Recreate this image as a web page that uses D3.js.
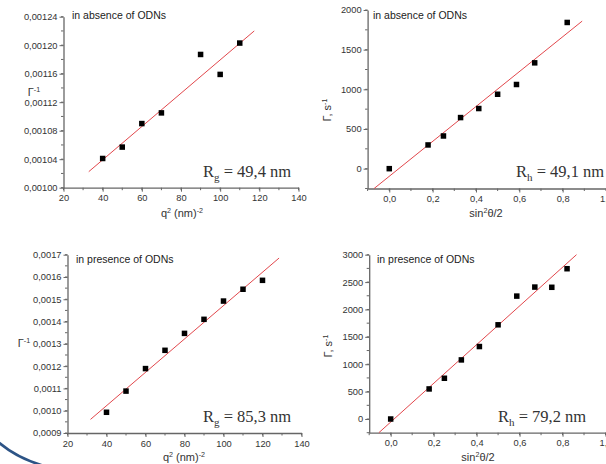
<!DOCTYPE html>
<html>
<head>
<meta charset="utf-8">
<script src="https://cdn.jsdelivr.net/npm/d3@7"></script>
<style>
  html, body { margin: 0; padding: 0; background: #fff; }
  svg { display: block; }
  .tick text { font-family: "Liberation Sans", Arial, sans-serif; }
</style>
</head>
<body>
<svg id="chart" width="606" height="464"></svg>
<script>
// Guinier plots: inverse decay rate vs q^2
const absQ2 = [40, 50, 60, 70, 90, 100, 110];
const absInvGamma = [0.001041, 0.001057, 0.001090, 0.001105, 0.001187, 0.001159, 0.001203];
const presQ2 = [40, 50, 60, 70, 80, 90, 100, 110, 120];
const presInvGamma = [0.000993, 0.001088, 0.001189, 0.001271, 0.001347, 0.001410, 0.001492, 0.001545, 0.001585];

// Decay rate vs sin^2(theta/2)
const absSin2 = [0, 0.179, 0.25, 0.329, 0.413, 0.5, 0.587, 0.671, 0.821];
const absGamma = [0, 299, 412, 644, 758, 938, 1061, 1334, 1843];
const presSin2 = [0, 0.179, 0.25, 0.329, 0.413, 0.5, 0.587, 0.671, 0.75, 0.821];
const presGamma = [0, 549, 744, 1079, 1323, 1720, 2244, 2409, 2405, 2744];

// Linear fit segments (start and end points, data units)
const absRgFit = [[32.9, 0.0010225], [117.4, 0.00122]];
const presRgFit = [[31.8, 0.000961], [128.5, 0.001685]];
const absRhFit = [[-0.07, -250], [0.89, 1860]];
const presRhFit = [[-0.055, -250], [0.865, 3000]];

// Tick values
const q2Ticks = [20, 40, 60, 80, 100, 120, 140];
const sinTicks = [0, 0.2, 0.4, 0.6, 0.8, 1.0];
const absInvTicks = [0.00100, 0.00104, 0.00108, 0.00112, 0.00116, 0.00120, 0.00124];
const presInvTicks = [0.0009, 0.0010, 0.0011, 0.0012, 0.0013, 0.0014, 0.0015, 0.0016, 0.0017];
const absGammaTicks = [0, 500, 1000, 1500, 2000];
const presGammaTicks = [0, 500, 1000, 1500, 2000, 2500, 3000];

const svg = d3.select("#chart");
const comma = (digits) => (v) => v.toFixed(digits).replace(".", ",");

// Writes [text, isSuperscript] parts into a text element, restoring the baseline after each superscript
function richText(el, parts, size) {
  let raised = false;
  parts.forEach(([t, sup]) => {
    const ts = el.append("tspan").text(t);
    if (sup) {
      ts.attr("font-size", size * 0.65).attr("dy", raised ? 0 : -4);
      raised = true;
    } else {
      ts.attr("font-size", size).attr("dy", raised ? 4 : 0);
      raised = false;
    }
  });
}

function panel(cfg) {
  const g = svg.append("g");
  const x = d3.scaleLinear().domain(cfg.xDomain).range(cfg.xRange);
  const y = d3.scaleLinear().domain(cfg.yDomain).range(cfg.yRange);
  const axisColor = "#666";

  // minor ticks
  const xMinor = d3.range(cfg.xDomain[0], cfg.xDomain[1] + 1e-9, cfg.xMinorStep);
  const yMinor = d3.range(cfg.yDomain[0], cfg.yDomain[1] + 1e-12, cfg.yMinorStep);
  g.append("g").selectAll("line").data(xMinor).join("line")
    .attr("x1", d => x(d)).attr("x2", d => x(d))
    .attr("y1", cfg.yRange[0]).attr("y2", cfg.yRange[0] + 2.5)
    .attr("stroke", axisColor).attr("stroke-width", 1);
  g.append("g").selectAll("line").data(yMinor).join("line")
    .attr("y1", d => y(d)).attr("y2", d => y(d))
    .attr("x1", cfg.xRange[0]).attr("x2", cfg.xRange[0] - 2.5)
    .attr("stroke", axisColor).attr("stroke-width", 1);

  const xAxis = g.append("g")
    .attr("transform", `translate(0,${cfg.yRange[0]})`)
    .call(d3.axisBottom(x).tickValues(cfg.xTicks).tickFormat(cfg.xFormat)
      .tickSizeOuter(0).tickSizeInner(4).tickPadding(3));
  const yAxis = g.append("g")
    .attr("transform", `translate(${cfg.xRange[0]},0)`)
    .call(d3.axisLeft(y).tickValues(cfg.yTicks).tickFormat(cfg.yFormat)
      .tickSizeOuter(0).tickSizeInner(4).tickPadding(2));
  [xAxis, yAxis].forEach(a => {
    a.select(".domain").attr("stroke", axisColor).attr("stroke-width", 1.3);
    a.selectAll(".tick line").attr("stroke", axisColor).attr("stroke-width", 1);
    a.selectAll(".tick text").attr("fill", "#333").style("font-size", "9.3px");
  });

  // fit line
  g.append("line")
    .attr("x1", x(cfg.fit[0][0])).attr("y1", y(cfg.fit[0][1]))
    .attr("x2", x(cfg.fit[1][0])).attr("y2", y(cfg.fit[1][1]))
    .attr("stroke", "#e2474c").attr("stroke-width", 1);

  // points
  const s = 5.5;
  g.append("g").selectAll("rect").data(cfg.xs).join("rect")
    .attr("x", d => x(d) - s / 2)
    .attr("y", (d, i) => y(cfg.ys[i]) - s / 2)
    .attr("width", s).attr("height", s)
    .attr("fill", "#000");

  // title
  g.append("text")
    .attr("x", cfg.title[1]).attr("y", cfg.title[2])
    .attr("font-family", "Liberation Sans, Arial, sans-serif")
    .attr("font-size", 10.5).attr("fill", "#222")
    .text(cfg.title[0]);

  // radius annotation
  const r = g.append("text")
    .attr("x", cfg.radius.x).attr("y", cfg.radius.y)
    .attr("font-family", "Liberation Serif, Times New Roman, serif")
    .attr("font-size", 16.5).attr("fill", "#333");
  r.append("tspan").text("R");
  r.append("tspan").attr("font-size", 11).attr("dy", 4).text(cfg.radius.sub);
  r.append("tspan").attr("dy", -4).text(" = " + cfg.radius.value);

  // x label
  const xl = g.append("text")
    .attr("x", cfg.xLabelPos[0]).attr("y", cfg.xLabelPos[1])
    .attr("text-anchor", "middle")
    .attr("font-family", "Liberation Sans, Arial, sans-serif")
    .attr("fill", "#333");
  richText(xl, cfg.xLabel, 11);

  // y label
  const yl = g.append("text")
    .attr("font-family", "Liberation Sans, Arial, sans-serif")
    .attr("fill", "#333")
    .attr("text-anchor", "middle");
  if (cfg.yRotate) yl.attr("transform", `translate(${cfg.yLabelPos[0]},${cfg.yLabelPos[1]}) rotate(-90)`);
  else yl.attr("x", cfg.yLabelPos[0]).attr("y", cfg.yLabelPos[1]);
  richText(yl, cfg.yLabel, 11);
}

const q2Label = [["q"], ["2", true], [" (nm)"], ["-2", true]];
const sinLabel = [["sin"], ["2", true], ["θ/2"]];
const invLabel = [["Γ"], ["-1", true]];
const rateLabel = [["Γ, s"], ["-1", true]];

panel({
  xDomain: [20, 140], xRange: [63.5, 298.5], xTicks: q2Ticks, xMinorStep: 10, xFormat: d3.format("d"),
  yDomain: [0.001, 0.00124], yRange: [187.7, 16.7], yTicks: absInvTicks, yMinorStep: 0.00002, yFormat: comma(5),
  xs: absQ2, ys: absInvGamma, fit: absRgFit,
  title: ["in absence of ODNs", 72, 19],
  radius: { x: 203, y: 177, sub: "g", value: "49,4 nm" },
  xLabel: q2Label, xLabelPos: [182, 217],
  yLabel: invLabel, yLabelPos: [34, 96], yRotate: false
});
panel({
  xDomain: [-0.1, 1.0], xRange: [367.6, 606], xTicks: sinTicks, xMinorStep: 0.1, xFormat: comma(1),
  yDomain: [-250, 2000], yRange: [188.5, 10], yTicks: absGammaTicks, yMinorStep: 250, yFormat: d3.format("d"),
  xs: absSin2, ys: absGamma, fit: absRhFit,
  title: ["in absence of ODNs", 373, 19],
  radius: { x: 516, y: 177, sub: "h", value: "49,1 nm" },
  xLabel: sinLabel, xLabelPos: [486, 217],
  yLabel: rateLabel, yLabelPos: [331, 110], yRotate: true
});
panel({
  xDomain: [20, 140], xRange: [67.5, 301.5], xTicks: q2Ticks, xMinorStep: 10, xFormat: d3.format("d"),
  yDomain: [0.0009, 0.0017], yRange: [433, 254.7], yTicks: presInvTicks, yMinorStep: 0.00005, yFormat: comma(4),
  xs: presQ2, ys: presInvGamma, fit: presRgFit,
  title: ["in presence of ODNs", 76, 263],
  radius: { x: 203, y: 422, sub: "g", value: "85,3 nm" },
  xLabel: q2Label, xLabelPos: [184, 461],
  yLabel: invLabel, yLabelPos: [24, 347], yRotate: false
});
panel({
  xDomain: [-0.1, 1.0], xRange: [369.2, 605.5], xTicks: sinTicks, xMinorStep: 0.1, xFormat: comma(1),
  yDomain: [-250, 3000], yRange: [432.7, 254.7], yTicks: presGammaTicks, yMinorStep: 250, yFormat: d3.format("d"),
  xs: presSin2, ys: presGamma, fit: presRhFit,
  title: ["in presence of ODNs", 377, 263],
  radius: { x: 498, y: 422, sub: "h", value: "79,2 nm" },
  xLabel: sinLabel, xLabelPos: [478, 461],
  yLabel: rateLabel, yLabelPos: [332, 346], yRotate: true
});

// decorative slide arc in the lower-left corner
svg.append("path")
  .attr("d", "M -4,440 Q 18,460 52,468")
  .attr("fill", "none")
  .attr("stroke", "#2d5486")
  .attr("stroke-width", 2.6);
</script>
</body>
</html>
